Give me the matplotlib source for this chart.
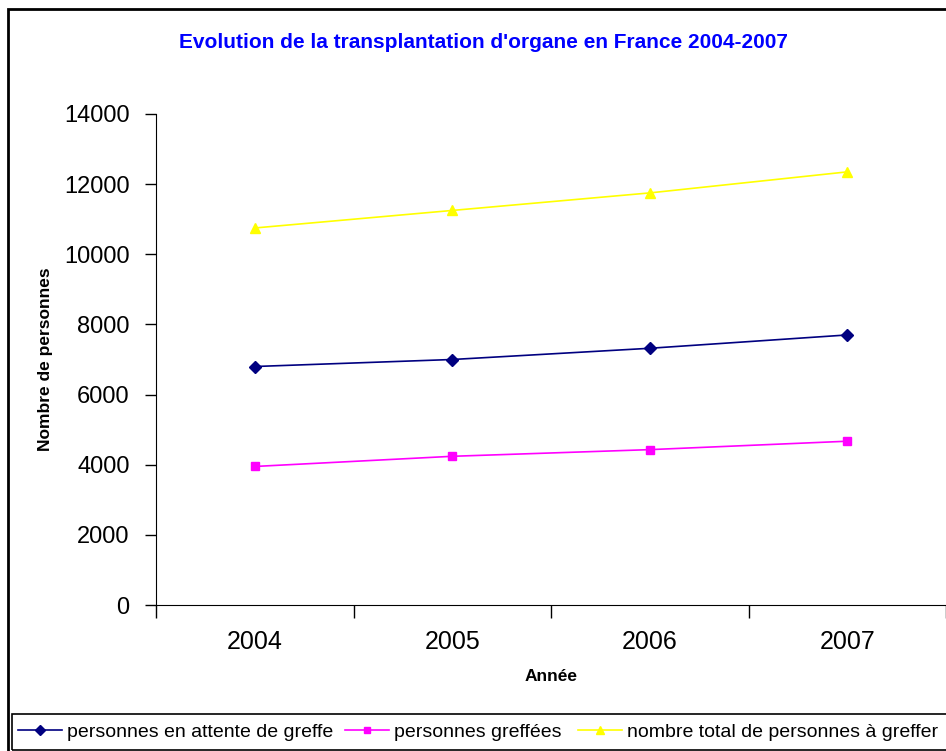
import numpy as np
import matplotlib.pyplot as plt
from matplotlib.patches import Rectangle

plt.rcParams['font.family'] = ['Liberation Sans', 'DejaVu Sans']

# data
annees = ['2004', '2005', '2006', '2007']
attente = [6800, 7000, 7320, 7700]
greffees = [3950, 4240, 4430, 4670]
total = [10750, 11250, 11750, 12350]

fig = plt.figure(figsize=(9.46, 7.51), dpi=100)
ax = fig.add_axes([156/946, 146/751, 790/946, 491/751])

x = np.arange(1, len(annees) + 1)
l1, = ax.plot(x, attente, color='#000080', marker='D', markersize=6, lw=1.2,
              label='personnes en attente de greffe')
l2, = ax.plot(x, greffees, color='#FF00FF', marker='s', markersize=6, lw=1.2,
              label='personnes greffées')
l3, = ax.plot(x, total, color='#FFFF00', marker='^', markersize=7, lw=1.2,
              label='nombre total de personnes à greffer')

ax.set_xlim(0.5, len(annees) + 0.5)
ax.set_ylim(0, 14000)
ax.set_yticks(np.arange(0, 14001, 2000))
ax.set_xticks(np.arange(0.5, len(annees) + 1, 1))
ax.set_xticklabels([])
ax.set_xticks(x, minor=True)
ax.set_xticklabels(annees, minor=True, fontsize=18)
ax.tick_params(axis='x', which='minor', length=0, pad=18)
ax.tick_params(axis='x', which='major', direction='out', length=9, width=1)
ax.tick_params(axis='y', direction='out', length=8, width=1, labelsize=17, pad=11)

for s in ['top', 'right']:
    ax.spines[s].set_visible(False)

ax.set_ylabel('Nombre de personnes', fontsize=12.5, fontweight='bold', labelpad=8)
ax.set_xlabel('Année', fontsize=12.5, fontweight='bold', labelpad=11)

fig.text(0.511, 0.944, "Evolution de la transplantation d'organe en France 2004-2007",
         ha='center', va='center', fontsize=15, fontweight='bold', color='#0000FF')

# outer border of the chart
fig.patches.append(Rectangle((8/946, -0.01), 1.0, 1 - 9/751 + 0.01, transform=fig.transFigure,
                             fill=False, edgecolor='black', lw=2))
# legend box
fig.patches.append(Rectangle((12/946, 1/751), 1.0, 36/751, transform=fig.transFigure,
                             fill=False, edgecolor='black', lw=1.2))

# one legend per entry, spaced like the original
for line, xpos in [(l1, 18), (l2, 345), (l3, 578)]:
    leg = fig.legend(handles=[line], loc='center left', bbox_to_anchor=(xpos/946, 19/751),
                     frameon=False, fontsize=14, markerscale=0.8,
                     handlelength=2.25, handletextpad=0.25,
                     borderaxespad=0, borderpad=0)

fig.savefig('out.png', dpi=100)
